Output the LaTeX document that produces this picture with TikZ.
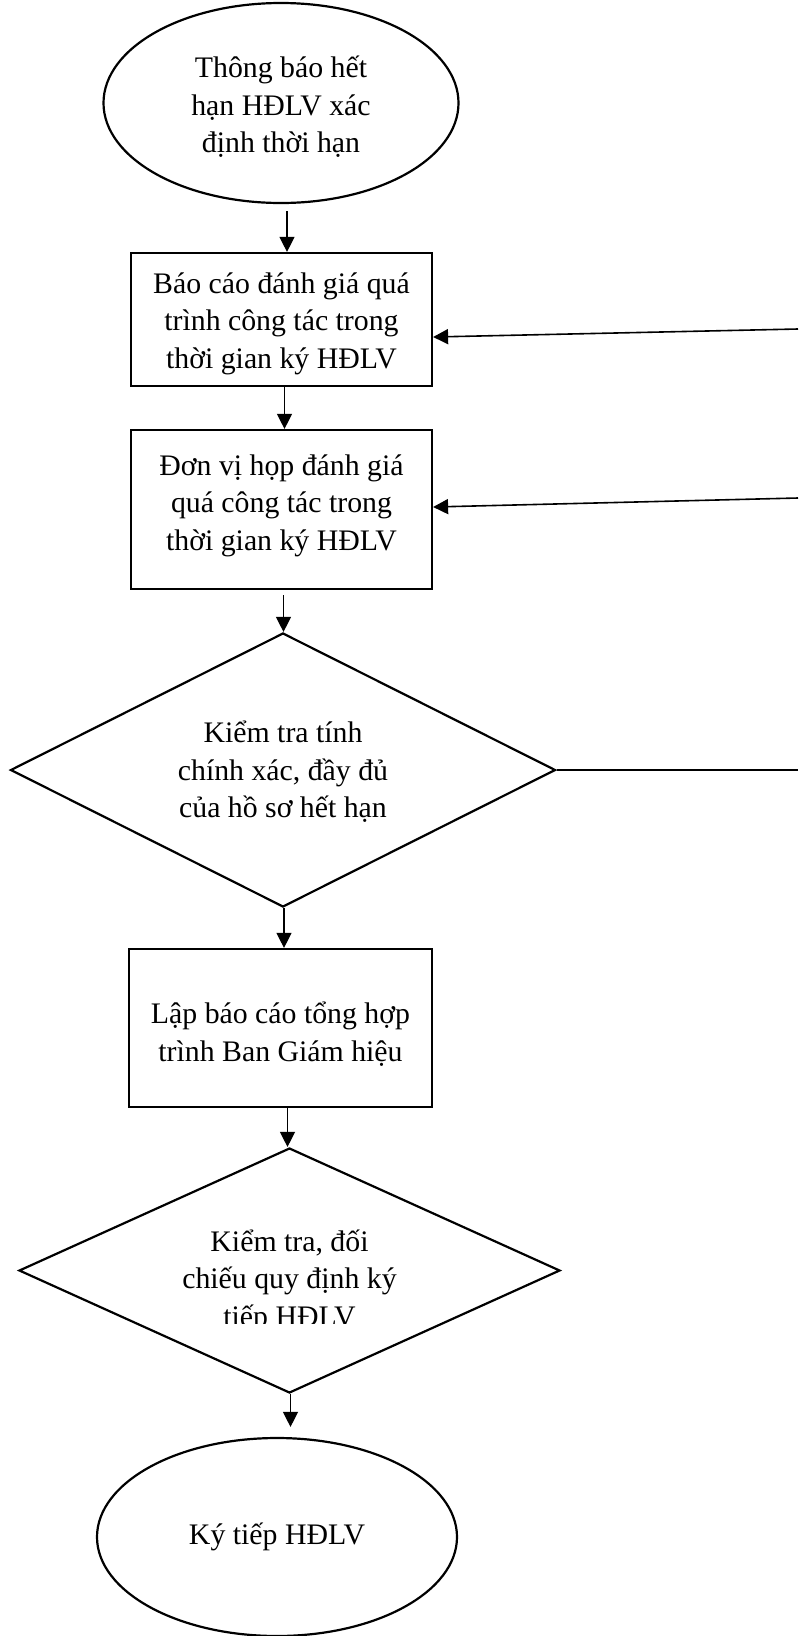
\documentclass[tikz,border=0pt]{standalone}
\usepackage{fontspec}
\setmainfont{Liberation Serif}
\usetikzlibrary{shapes.geometric,arrows.meta}
\begin{document}
\begin{tikzpicture}[x=1pt,y=-1pt,
  txt/.style={font=\fontsize{29.8}{37.5}\selectfont, align=center, inner sep=0pt},
  shapeline/.style={draw=black, line width=2.2pt, inner sep=0pt},
  procbox/.style={shapeline, rectangle},
  termin/.style={shapeline, ellipse},
  decis/.style={shapeline, diamond},
  flow/.style={line width=1.3pt, -{Triangle[length=15pt,width=15pt]}},
  sideflow/.style={line width=1.6pt, -{Triangle[length=15pt,width=15pt]}},
  plainline/.style={line width=1.8pt}]
\useasboundingbox (0,0) rectangle (798,1636);

% shapes
\node[termin, minimum width=355pt, minimum height=200pt] (start) at (281,103) {};
\node[procbox, minimum width=301pt, minimum height=133pt] (b1) at (281.5,319.5) {};
\node[procbox, minimum width=301pt, minimum height=159pt] (b2) at (281.5,509.5) {};
\node[decis, minimum width=545pt, minimum height=274pt] (d1) at (283,770) {};
\node[procbox, minimum width=303pt, minimum height=158pt] (b3) at (280.5,1028) {};
\node[decis, minimum width=541pt, minimum height=245pt] (d2) at (289.5,1270.5) {};
\node[termin, minimum width=360pt, minimum height=198pt] (end) at (277,1537) {};

% texts
\node[txt, yshift=-4pt] (startt) at (start) {Thông báo hết\\hạn HĐLV xác\\định thời hạn};
\node[txt, yshift=-4pt] (b1t) at (b1) {Báo cáo đánh giá quá\\trình công tác trong\\thời gian ký HĐLV};
\node[txt, yshift=4pt] (b2t) at (b2) {Đơn vị họp đánh giá\\quá công tác trong\\thời gian ký HĐLV};
\node[txt, yshift=-2pt] (d1t) at (d1) {Kiểm tra tính\\chính xác, đầy đủ\\của hồ sơ hết hạn};
\node[txt, yshift=-6pt] (b3t) at (b3) {Lập báo cáo tổng hợp\\trình Ban Giám hiệu};
\begin{scope}
  \clip (0,1100) rectangle (798,1323);
  \node[txt] (d2t) at (289.5,1281) {Kiểm tra, đối\\chiếu quy định ký\\tiếp HĐLV};
\end{scope}
\node[txt] (endt) at (end) {Ký tiếp HĐLV};

% vertical flow
\coordinate (st) at ([xshift=6pt,yshift=-7pt]start.south);
\draw[flow] (st) -- (st |- b1.north);
\draw[flow] ([xshift=3pt]b1.south) -- ([xshift=3pt]b2.north);
\coordinate (b2s) at ([xshift=2pt,yshift=-5pt]b2.south);
\draw[flow] (b2s) -- (b2s |- d1.north);
\draw[flow] ([xshift=1pt]d1.south) -- ([xshift=1pt]d1.south |- b3.north);
\draw[flow] ([xshift=7pt]b3.south) -- ([xshift=7pt]b3.south |- d2.north);
\coordinate (endtop) at ([yshift=10pt]end.north);
\draw[flow] ([xshift=1pt]d2.south) -- ([xshift=1pt]d2.south |- endtop);

% right-side return lines
\coordinate (rd) at (798,770);
\coordinate (r1) at (798,329);
\coordinate (r2) at (798,498);
\draw[plainline] (d1.east) -- (rd);
\draw[sideflow] (r1) -- ([yshift=-17.5pt]b1.east);
\draw[sideflow] (r2) -- ([yshift=2.5pt]b2.east);
\end{tikzpicture}
\end{document}
